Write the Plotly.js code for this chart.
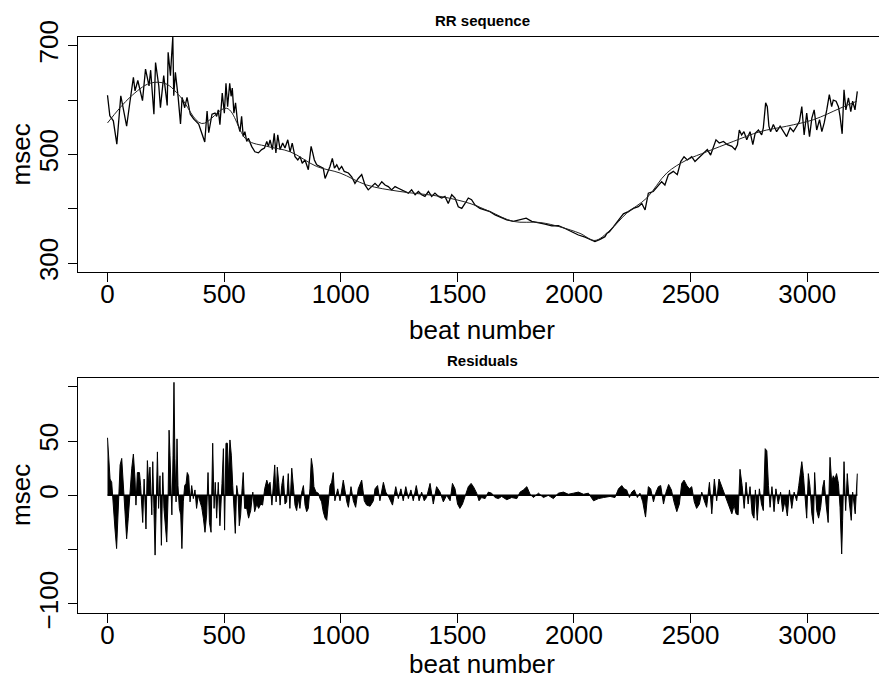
<!DOCTYPE html>
<html>
<head>
<meta charset="utf-8">
<script src="https://cdn.plot.ly/plotly-3.0.1.min.js"></script>
<style>html,body{margin:0;padding:0;background:#fff;}#chart{width:879px;height:681px;}</style>
</head>
<body>
<div id="chart"></div>
<script>
// RR sequence (beat number, msec)
const rrBeat = [0,10,25,40,57,68,82,96,111,118,130,150,163,178,185,199,206,220,227,241,256,260,270,274,280,284,291,303,313,320,331,341,355,370,391,405,417,427,434,448,461,468,475,482,492,501,508,515,524,530,535,542,549,558,568,575,582,589,597,604,618,632,647,661,673,683,690,697,707,715,722,730,740,751,761,773,783,792,804,816,826,835,847,861,873,880,887,897,911,925,933,944,954,964,973,983,993,1004,1015,1033,1047,1061,1075,1090,1104,1118,1133,1147,1161,1176,1190,1204,1218,1233,1247,1261,1276,1290,1304,1319,1333,1347,1361,1376,1390,1404,1419,1433,1447,1461,1476,1490,1504,1519,1533,1547,1561,1576,1597,1619,1640,1662,1683,1712,1740,1769,1795,1819,1847,1876,1905,1933,1962,1990,2019,2048,2076,2090,2112,2133,2141,2152,2169,2198,2212,2233,2255,2276,2291,2305,2319,2340,2362,2376,2390,2405,2426,2443,2458,2472,2486,2505,2519,2541,2558,2572,2586,2598,2609,2623,2641,2658,2677,2691,2701,2709,2719,2729,2741,2755,2767,2777,2791,2805,2812,2822,2829,2836,2843,2855,2869,2884,2901,2912,2927,2941,2955,2967,2977,2987,2998,3010,3020,3030,3041,3053,3063,3073,3084,3095,3105,3112,3124,3134,3141,3150,3158,3166,3177,3187,3195,3205,3215];
const rrMsec = [609,571,562,519,608,586,552,596,642,617,636,599,657,626,655,574,669,626,586,645,590,688,645,676,716,608,651,605,556,605,586,605,574,565,556,538,523,580,540,574,576,570,582,555,613,576,631,588,631,607,622,576,595,558,542,570,533,542,524,530,515,505,503,509,512,524,515,527,509,539,503,536,509,521,512,527,505,521,496,490,496,484,490,472,515,503,490,481,478,475,456,466,478,493,475,481,472,478,469,466,459,447,456,463,444,435,441,447,441,450,444,441,435,441,438,435,432,429,435,426,432,426,423,432,423,429,423,420,423,410,426,420,404,401,410,420,417,407,401,398,395,389,385,380,377,380,383,377,375,372,369,369,364,358,352,348,343,340,344,349,355,358,367,383,391,395,401,404,410,398,429,432,444,450,444,463,469,463,487,496,490,496,487,496,503,509,499,515,527,521,524,518,515,509,518,545,536,542,527,542,518,539,545,536,549,595,588,552,542,555,542,552,539,533,549,542,552,561,588,536,576,533,567,582,545,564,542,558,582,610,588,600,598,588,570,538,619,582,604,579,598,582,616];

// smooth trend through the RR sequence
const trendBeat = [0,96,182,250,311,404,511,597,683,783,897,997,1111,1254,1426,1554,1640,1740,1855,1940,2026,2090,2155,2226,2312,2398,2484,2569,2683,2798,2912,3027,3141,3213];
const trendMsec = [558,605,631,630,607,557,585,527,515,505,478,466,444,432,423,410,395,377,375,367,355,342,361,392,420,466,490,505,524,542,552,564,585,598];

// residuals (msec)
const resBeat = [0,4,11,18,25,32,39,46,54,61,68,75,82,89,96,104,111,118,122,128,137,142,151,157,165,171,177,182,190,194,199,204,208,214,219,225,231,237,242,248,254,260,264,268,272,276,281,285,289,294,298,302,308,314,319,325,331,337,342,348,354,361,368,375,382,389,397,404,411,418,425,431,437,444,451,457,462,468,475,482,491,497,502,508,514,519,525,531,537,542,548,554,560,565,571,577,582,588,597,605,614,623,631,640,648,657,665,674,683,690,697,705,711,717,723,728,734,740,747,754,761,768,775,782,790,797,804,811,818,825,833,840,847,854,861,868,874,880,885,894,904,911,918,925,933,940,947,954,961,968,975,987,997,1011,1026,1033,1044,1054,1064,1075,1090,1101,1111,1126,1140,1147,1158,1168,1183,1193,1207,1222,1236,1247,1258,1268,1279,1290,1301,1311,1324,1336,1347,1358,1368,1383,1397,1411,1426,1440,1454,1469,1479,1490,1501,1511,1522,1533,1547,1559,1569,1583,1593,1604,1619,1633,1647,1662,1676,1690,1712,1733,1755,1769,1783,1798,1812,1826,1848,1869,1890,1912,1933,1955,1976,1998,2019,2041,2062,2084,2105,2127,2155,2176,2191,2205,2215,2226,2238,2248,2259,2272,2283,2295,2307,2319,2329,2341,2352,2362,2372,2384,2395,2406,2418,2429,2441,2452,2462,2472,2484,2495,2505,2516,2526,2538,2548,2559,2569,2581,2591,2602,2612,2622,2634,2644,2655,2667,2677,2687,2695,2704,2712,2721,2730,2738,2747,2755,2764,2772,2778,2786,2795,2804,2812,2820,2827,2834,2841,2849,2858,2866,2876,2886,2895,2905,2915,2924,2934,2944,2955,2964,2970,2977,2984,2991,2998,3005,3012,3020,3027,3032,3041,3049,3058,3067,3073,3081,3090,3098,3105,3112,3119,3126,3134,3141,3148,3152,3158,3165,3172,3180,3189,3195,3200,3206,3215];
const resMsec = [53,41,15,12,-12,-31,-49,-18,28,34,9,-18,-40,-21,6,25,38,15,-9,21,21,9,-25,15,-31,32,9,26,-18,31,-12,-55,-18,40,-12,18,-46,21,-12,-28,-43,0,60,37,12,-18,37,104,34,-6,52,9,-12,-18,-49,-6,9,11,21,18,-6,9,-3,5,-12,0,-6,-11,-21,-34,-18,21,-25,-34,48,-12,12,-21,12,-28,11,43,-32,48,48,18,51,37,9,-18,-35,9,0,-28,-18,6,21,-12,-12,-21,-14,3,-15,-8,-12,-8,-9,6,14,9,12,-9,12,28,-6,26,12,-9,9,18,-8,-6,20,-12,25,6,-9,-14,-3,-12,3,9,-9,-15,-12,6,34,25,8,3,2,-3,-6,-15,-21,-23,-6,9,12,21,-5,6,-5,14,-6,-11,8,-5,-11,6,14,-5,-9,-10,-5,6,9,-5,12,3,-2,-9,8,-3,6,-5,8,-3,5,-5,9,-5,3,-5,-2,11,-8,8,3,-6,0,-5,11,6,-8,-12,-8,0,8,11,8,2,-5,-2,-3,3,2,-2,-3,-1,-4,-2,-3,3,5,8,1,-2,2,-2,0,-3,2,3,1,2,3,1,2,-5,-3,-2,-1,-2,6,9,6,5,-2,3,5,-2,2,-6,-20,8,6,-6,3,8,9,-8,3,10,5,-6,-15,-8,11,14,9,6,8,-6,-12,-8,3,-5,-11,12,-17,15,-5,15,8,3,-5,-12,-17,-9,-17,-18,24,9,-12,12,-8,8,-17,-21,5,-23,6,-8,-14,43,41,9,-11,8,-15,6,-8,3,-15,-5,-19,5,-12,3,-5,9,18,31,18,-5,-21,20,8,-17,-26,21,-14,-21,-11,8,14,-8,-25,35,12,18,15,20,11,-11,-54,-23,31,-14,20,-5,-23,3,-5,-17,20];

// axis ticks
const xTickVals = [0,500,1000,1500,2000,2500,3000];
const topTickVals = [300,400,500,600,700];
const topTickText = ['300','','500','','700'];
const resTickVals = [-100,-50,0,50,100];
const resTickText = ['\u2212100','','0','50',''];

const FONT = 'Liberation Sans, Arial, Helvetica, sans-serif';
const black = '#000000';

const traces = [
  {x: rrBeat, y: rrMsec, type: 'scatter', mode: 'lines', line: {color: black, width: 1.3}, xaxis: 'x', yaxis: 'y', hoverinfo: 'skip'},
  {x: trendBeat, y: trendMsec, type: 'scatter', mode: 'lines', line: {color: '#222222', width: 1, shape: 'spline', smoothing: 1}, xaxis: 'x', yaxis: 'y', hoverinfo: 'skip'},
  {x: resBeat, y: resMsec, type: 'scatter', mode: 'lines', fill: 'tozeroy', fillcolor: black, line: {color: black, width: 1}, xaxis: 'x2', yaxis: 'y2', hoverinfo: 'skip'},
  {x: [resBeat[0], resBeat[resBeat.length - 1]], y: [0, 0], type: 'scatter', mode: 'lines', line: {color: black, width: 1.5}, xaxis: 'x2', yaxis: 'y2', hoverinfo: 'skip'}
];

const xCommon = {
  range: [-126.5, 3308], tickvals: xTickVals, ticks: 'outside', ticklen: 9, tickwidth: 1, tickcolor: black,
  ticklabelstandoff: -10,
  showline: true, mirror: true, linecolor: black, linewidth: 1, showgrid: false, zeroline: false,
  tickfont: {family: FONT, size: 26, color: black}, automargin: false, fixedrange: true
};
const yCommon = {
  ticks: 'outside', ticklen: 9, tickwidth: 1, tickcolor: black, tickangle: -90,
  showline: true, mirror: false, linecolor: black, linewidth: 1, showgrid: false, zeroline: false,
  tickfont: {family: FONT, size: 26, color: black}, automargin: false, fixedrange: true
};

const layout = {
  width: 879, height: 681,
  margin: {l: 78, r: 0, t: 37, b: 68, pad: 0},
  paper_bgcolor: '#ffffff', plot_bgcolor: '#ffffff',
  showlegend: false, hovermode: false,
  font: {family: FONT, color: black},
  xaxis: Object.assign({}, xCommon, {domain: [0, 1], anchor: 'y'}),
  yaxis: Object.assign({}, yCommon, {domain: [0.592, 1], range: [284, 716], tickvals: topTickVals, ticktext: topTickText, anchor: 'x'}),
  xaxis2: Object.assign({}, xCommon, {domain: [0, 1], anchor: 'y2'}),
  yaxis2: Object.assign({}, yCommon, {domain: [0, 0.4085], range: [-108.3, 108.3], tickvals: resTickVals, ticktext: resTickText, anchor: 'x2'}),
  annotations: [
    {text: '<b>RR sequence</b>', xref: 'paper', yref: 'paper', x: 0.5056, y: 1.028, xanchor: 'center', yanchor: 'middle', showarrow: false, font: {family: FONT, size: 15, color: black}},
    {text: '<b>Residuals</b>', xref: 'paper', yref: 'paper', x: 0.5056, y: 0.439, xanchor: 'center', yanchor: 'middle', showarrow: false, font: {family: FONT, size: 15, color: black}},
    {text: 'beat number', xref: 'paper', yref: 'paper', x: 0.5044, y: 0.491, xanchor: 'center', yanchor: 'middle', showarrow: false, font: {family: FONT, size: 26, color: black}},
    {text: 'beat number', xref: 'paper', yref: 'paper', x: 0.5044, y: -0.1178, xanchor: 'center', yanchor: 'bottom', showarrow: false, font: {family: FONT, size: 26, color: black}},
    {text: 'msec', xref: 'paper', yref: 'paper', x: -0.0712, y: 0.796, xanchor: 'center', yanchor: 'middle', textangle: -90, showarrow: false, font: {family: FONT, size: 26, color: black}},
    {text: 'msec', xref: 'paper', yref: 'paper', x: -0.0712, y: 0.205, xanchor: 'center', yanchor: 'middle', textangle: -90, showarrow: false, font: {family: FONT, size: 26, color: black}}
  ]
};

Plotly.newPlot('chart', traces, layout, {staticPlot: true, displayModeBar: false});
</script>
</body>
</html>
